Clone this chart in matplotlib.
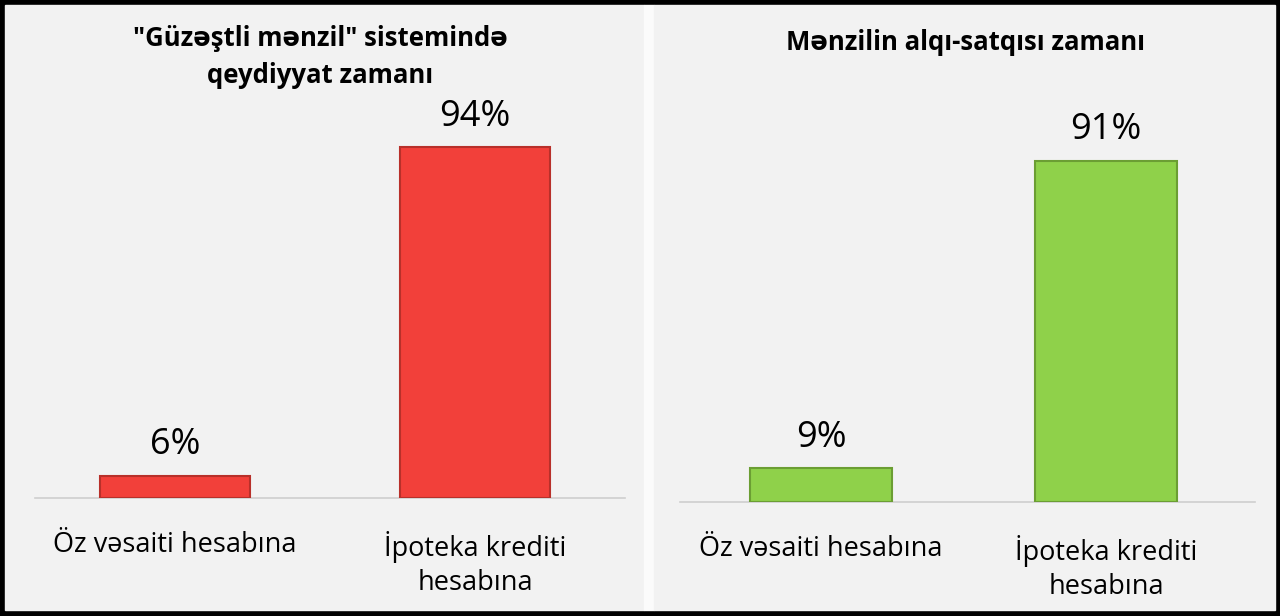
import matplotlib.pyplot as plt
from matplotlib.patches import Rectangle

plt.rcParams['font.family'] = ['Open Sans', 'DejaVu Sans']

categories = ["Öz vəsaiti hesabına", "İpoteka krediti\nhesabına"]
left_title = "\"Güzəştli mənzil\" sistemində\nqeydiyyat zamanı"
left_values = [6, 94]
right_title = "Mənzilin alqı-satqısı zamanı"
right_values = [9, 91]

W, H = 1280, 616
fig = plt.figure(figsize=(W / 100, H / 100), dpi=100, facecolor="black")

# panel backgrounds (pixels -> figure fraction)
def px_rect(x0, y0, x1, y1, color):
    fig.patches.append(Rectangle((x0 / W, 1 - y1 / H), (x1 - x0) / W, (y1 - y0) / H,
                                 transform=fig.transFigure, color=color, zorder=-10))

px_rect(5, 5, 644, 610, "#f2f2f2")
px_rect(644, 5, 654, 610, "#fbfbfb")
px_rect(654, 5, 1275, 610, "#f2f2f2")


def draw_panel(rect, values, xlim, ylim_top, color, edge):
    ax = fig.add_axes(rect, zorder=5)
    ax.set_facecolor("none")
    bars = ax.bar(range(len(values)), values, width=0.5, color=color,
                  edgecolor=edge, linewidth=1.5, zorder=3)
    ax.set_xlim(*xlim)
    ax.set_ylim(0, ylim_top)
    for s in ["top", "right", "left"]:
        ax.spines[s].set_visible(False)
    ax.spines["bottom"].set_color("#cfcfcf")
    ax.spines["bottom"].set_linewidth(1.2)
    ax.set_yticks([])
    ax.set_xticks(range(len(values)))
    ax.set_xticklabels(categories, fontsize=19.5, linespacing=1.25)
    ax.tick_params(axis="x", length=0, pad=24)
    ax.bar_label(bars, labels=[f"{v}%" for v in values], padding=9, fontsize=26)
    return ax


# left chart: baseline y=498px, 3.73 px per %
draw_panel([35 / W, 118 / H, 590 / W, 373 / H], left_values, (-0.4667, 1.5), 100,
           "#f2403a", "#b8302a")
# right chart: baseline y=502px, 3.75 px per %
draw_panel([680 / W, 114 / H, 575 / W, 375 / H], right_values, (-0.495, 1.523), 100,
           "#8fd14a", "#6b9e33")

fig.text(320 / W, 1 - 57 / H, left_title, ha="center", va="center",
         fontsize=18.5, fontweight="bold", linespacing=1.5)
fig.text(965 / W, 1 - 42 / H, right_title, ha="center", va="center",
         fontsize=18.5, fontweight="bold")

fig.savefig("out.png", dpi=100, facecolor=fig.get_facecolor())
